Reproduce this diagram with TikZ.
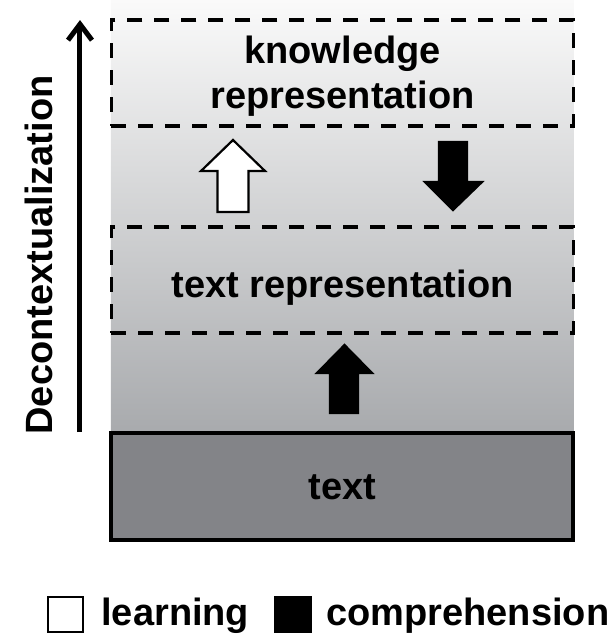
\documentclass[tikz,border=0pt]{standalone}
\usepackage{fontspec}
\setmainfont{Liberation Sans}
\usepackage{tikz}
\usetikzlibrary{arrows.meta}

\definecolor{bgtop}{HTML}{FAFAFA}
\definecolor{bgbottom}{HTML}{A8AAAD}
\definecolor{textgrey}{HTML}{838488}

\tikzset{
  layerbox/.style={draw=black, line width=1.8pt, dash pattern=on 7.5pt off 6pt,
    minimum width=231pt, minimum height=53pt, inner sep=0pt},
  textbox/.style={draw=black, line width=2pt, fill=textgrey,
    minimum width=231pt, minimum height=53.5pt, inner sep=0pt},
  lbl/.style={font=\fontsize{19}{22.5}\selectfont\bfseries, align=center, inner sep=0pt},
  legbox/.style={draw=black, line width=1.4pt, minimum size=17.5pt, inner sep=0pt},
  blockarrow/.style={draw=black, line width=1.1pt, line join=miter}
}

\begin{document}
\begin{tikzpicture}[x=0.5pt,y=-0.5pt]
\useasboundingbox (0,0) rectangle (611,634);
% background
\shade[top color=bgtop, bottom color=bgbottom] (111,0) rectangle (574,433);
% layers
\node[layerbox] (know) at (342.5,73) {};
\node[layerbox] (textrep) at (342.5,280) {};
\node[textbox] (text) at (342.5,486.5) {};
\node[lbl] (knowlbl) at (342.5,76) {knowledge\\representation};
\node[lbl] (replbl) at (342.5,287.5) {text representation};
\node[lbl] (textlbl) at (342.5,487) {text};
% decontextualization axis
\node[lbl, rotate=90] (decon) at (39,255) {Decontextualization};
\coordinate (dbot) at (80,432);
\coordinate (dtop) at (80,20);
\draw[line width=2.5pt, -{Straight Barb[length=8pt,width=12pt]}] (dbot) -- (dtop);
% block arrows
\filldraw[blockarrow, fill=white] (233,140) -- (265,171) -- (248.5,171) -- (248.5,212)
  -- (217.5,212) -- (217.5,171) -- (201,171) -- cycle;
\filldraw[blockarrow, fill=black] (439,142) -- (467,142) -- (467,182) -- (482,182)
  -- (453,210) -- (425,182) -- (439,182) -- cycle;
\filldraw[blockarrow, fill=black] (344.5,345) -- (372,373) -- (358,373) -- (358,413)
  -- (330,413) -- (330,373) -- (317,373) -- cycle;
% legend
\node[legbox, fill=white] (learnkey) at (65.5,614.5) {};
\node[lbl, anchor=base west] (learntxt) at (101,625) {learning};
\node[legbox, fill=black] (comprkey) at (293,614.5) {};
\node[lbl, anchor=base west] (comprtxt) at (326,625) {comprehension};
\end{tikzpicture}
\end{document}
